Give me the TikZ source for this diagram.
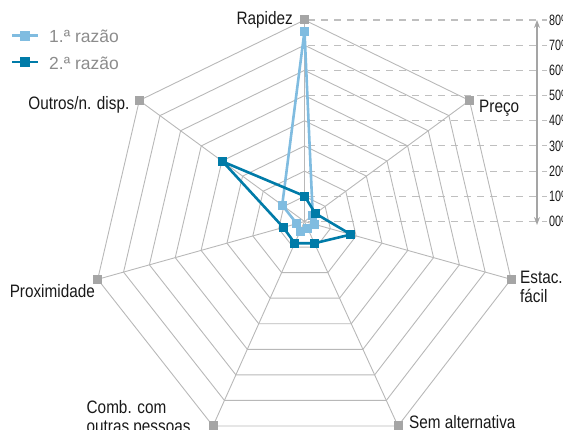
\documentclass[tikz,border=0pt]{standalone}
\usepackage{fontspec}
\setmainfont{Liberation Sans}[FakeStretch=0.85]
\newfontfamily\legendfont{Liberation Sans}
\newfontfamily\scalefont{Liberation Sans}[FakeStretch=0.72]
\usetikzlibrary{arrows.meta,calc}
\definecolor{gridgray}{HTML}{B8B8B8}
\definecolor{vtxgray}{HTML}{A5A5A5}
\definecolor{razaolight}{HTML}{80BCE0}
\definecolor{razaodark}{HTML}{007BA8}
\tikzset{
sq/.style = {rectangle, fill=#1, minimum size=9pt,
              inner sep=0pt, outer sep=0pt},
sq/.default = vtxgray
}
\tikzset{
web/.style = {draw=gridgray, line width=0.9pt},
scaleline/.style = {draw=gridgray!90, line width=1.1pt, dash pattern=on 7pt off 6pt},
razao/.style = {draw=#1, line width=2.6pt, line join=round}
}
\tikzset{
lbl/.style = {font=\fontsize{18}{19}\selectfont, inner sep=0pt, text=black!90},
pct/.style = {font=\scalefont\fontsize{15}{15}\selectfont, inner sep=0pt, text=black!90, anchor=west}
}

\begin{document}
\begin{tikzpicture}[x=1pt,y=-1pt]
  \useasboundingbox (0,0) rectangle (563,430);
  \clip (0,0) rectangle (563,430);

  % Axes
    \coordinate (ctr) at (304.5,221.5);
    \coordinate (vRap) at (304.5,20);
    \coordinate (vPre) at (469.5,100.5);
    \coordinate (vEst) at (511,279.3);
    \coordinate (vSem) at (398,426);
    \coordinate (vCom) at (213,426);
    \coordinate (vPro) at (97.7,279.3);
    \coordinate (vOut) at (139.3,100.5);

  % Scale
    \foreach \k in {0,...,8}
      \draw[scaleline] (308,221.5-\k*25.19) -- (547,221.5-\k*25.19);
    \coordinate (scTop) at (537,20);
    \coordinate (scBot) at (537,225);
    \draw[draw=vtxgray, line width=1.2pt, {Stealth[length=8pt,width=6pt]}-{Stealth[length=8pt,width=6pt]}] (scTop) -- (scBot);
    \foreach \k in {0,...,8}
      \node[pct] (pct\k) at (549,221.5-\k*25.19) {\k0\%};

  % Web
    \foreach \k in {1,...,8}
      \draw[web] ($(ctr)!{\k/8}!(vRap)$) -- ($(ctr)!{\k/8}!(vPre)$) -- ($(ctr)!{\k/8}!(vEst)$)
        -- ($(ctr)!{\k/8}!(vSem)$) -- ($(ctr)!{\k/8}!(vCom)$) -- ($(ctr)!{\k/8}!(vPro)$)
        -- ($(ctr)!{\k/8}!(vOut)$) -- cycle;
    \foreach \v in {vRap,vPre,vEst,vSem,vCom,vPro,vOut}
      \draw[web] (ctr) -- (\v);
    \foreach \v in {vRap,vPre,vEst,vSem,vCom,vPro,vOut}
      \node[sq] (s\v) at (\v) {};

  % Values
    \foreach \v/\p [count=\i] in {vRap/75.6,vPre/4,vEst/4,vSem/2.8,vCom/3.8,vPro/3,vOut/10.8}
      \coordinate (pA\i) at ($(ctr)!{\p/80}!(\v)$);
    \foreach \v/\p [count=\i] in {vRap/10.1,vPre/5.3,vEst/18,vSem/8.5,vCom/8.5,vPro/8.2,vOut/39.6}
      \coordinate (pB\i) at ($(ctr)!{\p/80}!(\v)$);
    \draw[razao=razaolight] (pA1) -- (pA2) -- (pA3) -- (pA4) -- (pA5) -- (pA6) -- (pA7) -- cycle;
    \foreach \i in {1,...,7}
      \node[sq=razaolight] (mA\i) at (pA\i) {};
    \draw[razao=razaodark] (pB1) -- (pB2) -- (pB3) -- (pB4) -- (pB5) -- (pB6) -- (pB7) -- cycle;
    \foreach \i in {1,...,7}
      \node[sq=razaodark] (mB\i) at (pB\i) {};

  % Labels
    \node[lbl, anchor=base east] (lRap) at (293,24.5) {Rapidez};
    \node[lbl, anchor=base west] (lPre) at (479,112.3) {Preço};
    \node[lbl, anchor=north west, align=left] (lEst) at (520,270.7) {Estac.\\fácil};
    \node[lbl, anchor=base west] (lSem) at (409,429) {Sem alternativa};
    \node[lbl, anchor=north west, align=left] (lCom) at (86.5,400) {Comb. com\\outras pessoas};
    \node[lbl, anchor=base east] (lPro) at (95,298) {Proximidade};
    \node[lbl, anchor=base east] (lOut) at (129.5,109.3) {Outros/n. disp.};

  % Legend
    \coordinate (legA0) at (12,35.7);
    \coordinate (legA1) at (37.5,35.7);
    \coordinate (legB0) at (12,62);
    \coordinate (legB1) at (37.5,62);
    \draw[razao=razaolight] (legA0) -- (legA1);
    \node[sq=razaolight, minimum size=10pt] (legAsq) at ($(legA0)!0.5!(legA1)$) {};
    \draw[razao=razaodark] (legB0) -- (legB1);
    \node[sq=razaodark, minimum size=10pt] (legBsq) at ($(legB0)!0.5!(legB1)$) {};
    \node[anchor=base west, inner sep=0pt, text=black!45, font=\legendfont\fontsize{17.5}{18}\selectfont] (legA) at (49,42.7) {1.ª razão};
    \node[anchor=base west, inner sep=0pt, text=black!45, font=\legendfont\fontsize{17.5}{18}\selectfont] (legB) at (49,69.3) {2.ª razão};
  \end{tikzpicture}
\end{document}
